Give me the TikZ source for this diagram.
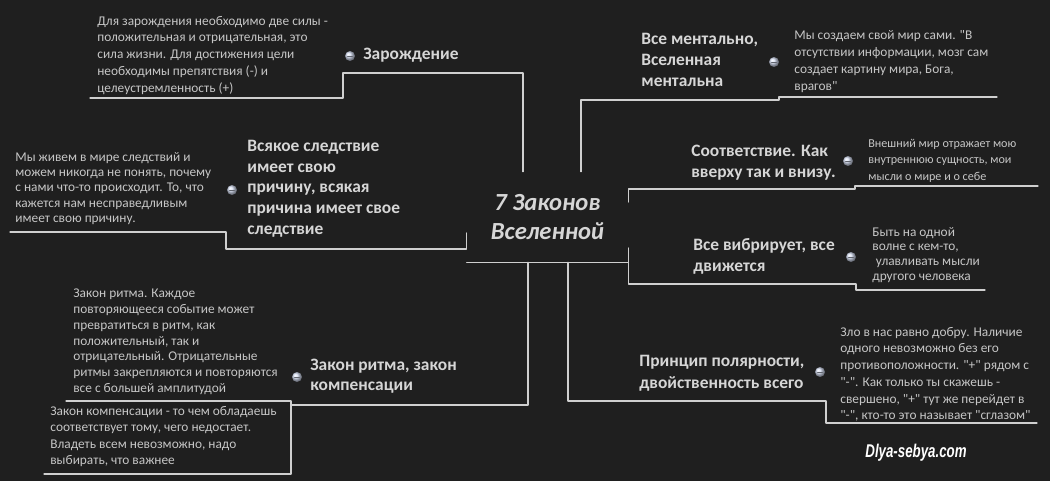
\documentclass[tikz,border=0pt]{standalone}
\usepackage{fontspec}
\setmainfont{Carlito}
\newfontfamily\markfont{Liberation Sans}
\definecolor{bgcol}{HTML}{1F1F1F}
\definecolor{linecol}{HTML}{CFCFCF}
\definecolor{headcol}{HTML}{D6D6D6}
\definecolor{notecol}{HTML}{C6C6C6}
\definecolor{knobcol}{HTML}{D4DCF0}
\newcommand{\qq}{\textquotedbl}
\begin{document}
\begin{tikzpicture}[x=0.02cm, y=-0.02cm, line cap=round, line join=round,
    link/.style={draw=linecol, line width=.7pt},
    head/.style={anchor=base west, inner sep=0, align=left, text=headcol, font=\fontsize{9.9}{#1}\selectfont\bfseries},
    head/.default=11.9,
    note/.style={anchor=base west, inner sep=0, align=left, text=notecol, font=\fontsize{7.6}{#1}\selectfont},
    note/.default=9.5,
    knob/.style={circle, inner sep=0, minimum size=0.2cm, shading=ball, ball color=knobcol,
        path picture={\draw[line width=.5pt, color=knobcol!45!black] (-2.5,0)--(2.5,0);}}]
	\fill[bgcol] (0,0) rectangle (1050,481);
	\useasboundingbox (0,0) rectangle (1050,481);
	\node[text=headcol, font=\fontsize{14}{17}\selectfont\bfseries\itshape, align=center, inner sep=0,
	    minimum width=3.22cm, minimum height=1.8cm] (main) at (547.5,217) {7 Законов\\Вселенной};
	\node[note] (zdet) at (97,92) {Для зарождения необходимо две силы -\\положительная и отрицательная, это\\сила жизни. Для достижения цели\\необходимы препятствия (-) и\\целеустремленность (+)};
	\node[knob] (zknob) at (350,56) {};
	\node[head] (zhead) at (363,59.2) {Зарождение};
	\node[head] (mhead) at (641,86.5) {Все ментально,\\Вселенная\\ментальна};
	\node[knob] (mknob) at (774,62) {};
	\node[note=9.8] (mdet) at (794,90.7) {Мы создаем свой мир сами. \qq В\\отсутствии информации, мозг сам\\создает картину мира, Бога,\\врагов\qq};
	\node[note=8.79] (vdet) at (15,222.8) {Мы живем в мире следствий и\\можем никогда не понять, почему\\с нами что-то происходит. То, что\\кажется нам несправедливым\\имеет свою причину.};
	\node[knob] (vknob) at (232,190) {};
	\node[head=11.76] (vhead) at (247,234.2) {Всякое следствие\\имеет свою\\причину, всякая\\причина имеет свое\\следствие};
	\node[head] (shead) at (691,177) {Соответствие. Как\\вверху так и внизу.};
	\node[knob] (sknob) at (848,161) {};
	\node[note, font=\fontsize{6.9}{9.35}\selectfont] (sdet) at (868,180.3) {Внешний мир отражает мою\\внутреннюю сущность, мои\\мысли о мире и о себе};
	\node[head] (bhead) at (693,271) {Все вибрирует, все\\движется};
	\node[knob] (bknob) at (851,257) {};
	\node[note=8.5] (bdet) at (872,280.8) {Быть на одной\\волне с кем-то,\\\hspace{2pt}улавливать мысли\\другого человека};
	\node[note=9.07] (rdet) at (73,392.8) {Закон ритма. Каждое\\повторяющееся событие может\\превратиться в ритм, как\\положительный, так и\\отрицательный. Отрицательные\\ритмы закрепляются и повторяются\\все с большей амплитудой};
	\node[note=9.35] (cdet) at (50,464.8) {Закон компенсации - то чем обладаешь\\соответствует тому, чего недостает.\\Владеть всем невозможно, надо\\выбирать, что важнее};
	\node[knob] (rknob) at (297,377) {};
	\node[head=11.05] (rhead) at (310,390.2) {Закон ритма, закон\\компенсации};
	\node[head=12.47] (phead) at (639,388.2) {Принцип полярности,\\двойственность всего};
	\node[knob] (pknob) at (820,372) {};
	\node[note=9.52] (pdet) at (840,419.8) {Зло в нас равно добру. Наличие\\одного невозможно без его\\противоположности. \qq+\qq{} рядом с\\\qq-\qq. Как только ты скажешь -\\свершено, \qq+\qq{} тут же перейдет в\\\qq-\qq, кто-то это называет \qq сглазом\qq};
	\node[text=white, font=\markfont\fontsize{10.5}{12}\selectfont\bfseries\itshape, inner sep=0] (mark) at (916,453) {\scalebox{.72}[1]{Dlya-sebya.com}};
	\coordinate (zl) at (90,98);
	\coordinate (zc) at (343,73);
	\coordinate (ml) at (997,97);
	\coordinate (mc) at (779,100);
	\coordinate (vl) at (10,232);
	\coordinate (vc) at (226,249);
	\coordinate (sl) at (1038,186);
	\coordinate (sc) at (855,189);
	\coordinate (bl) at (985,290);
	\coordinate (bc) at (856,284);
	\coordinate (rl) at (66,401);
	\coordinate (rc) at (291,405);
	\coordinate (cl) at (44,474);
	\coordinate (pc) at (826,401);
	\coordinate (pl) at (1037,423);
	\draw[link] (zl) -| (zc) -| ([xshift=-.49cm]main.north);
	\draw[link] (ml) -| (mc) -| ([xshift=.67cm]main.north);
	\draw[link] (vl) -| (vc) -| ([yshift=-.32cm]main.west);
	\draw[link] (main.south west) -- (main.south east);
	\draw[link] (sl) -| (sc) -| ([yshift=.3cm]main.east);
	\draw[link] (bl) -| (bc) -| ([yshift=-.62cm]main.east);
	\draw[link] ([xshift=-.39cm]main.south) |- (rc) |- (cl);
	\draw[link] (rl) -| (rc);
	\draw[link] ([xshift=.41cm]main.south) |- (pc) |- (pl);
\end{tikzpicture}
\end{document}
